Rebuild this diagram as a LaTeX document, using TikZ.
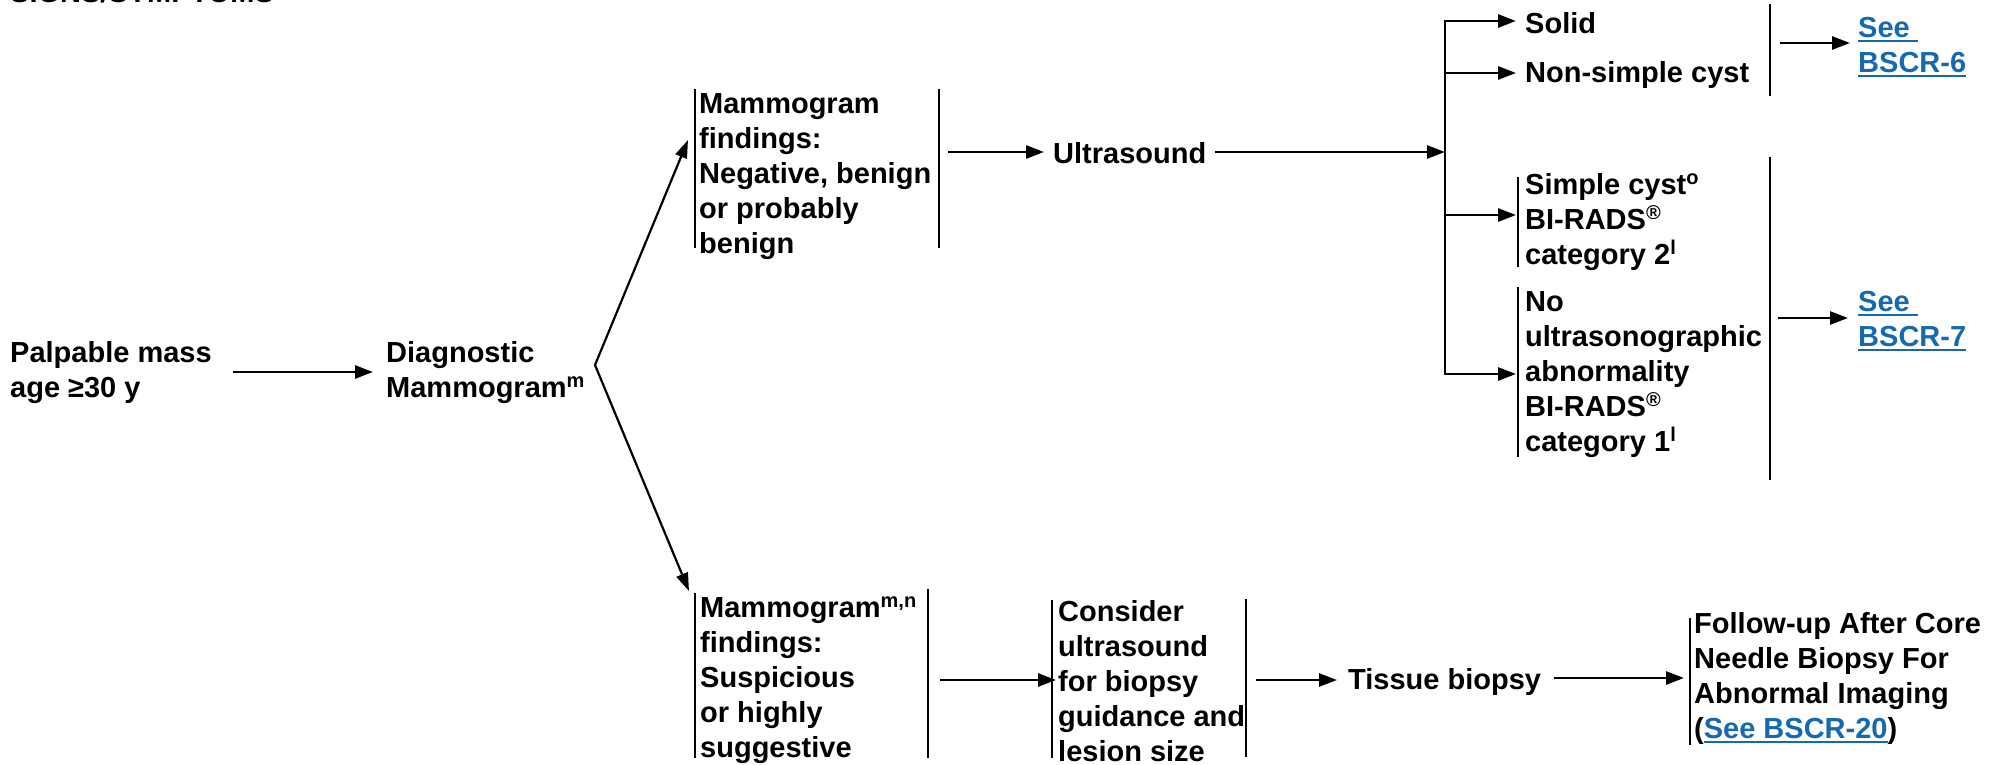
\documentclass[tikz,border=0pt]{standalone}
\usepackage{fontspec}
\setmainfont{Liberation Sans}
\usetikzlibrary{arrows.meta}
\definecolor{lb}{RGB}{22,105,175}
\newcommand\lnk[1]{{\color{lb}\setbox0\hbox{#1}\rlap{\rule[-4.5pt]{\wd0}{2.2pt}}\box0}}
\newcommand\sups[1]{\raisebox{10pt}{\fontsize{20}{20}\selectfont #1}}
\begin{document}
\begin{tikzpicture}[x=1pt,y=-1pt,
  arr/.style={line width=2.7pt,-{Triangle[length=18pt,width=13pt]}},
  darr/.style={line width=2.7pt,{Triangle[length=18pt,width=13pt]}-{Triangle[length=18pt,width=13pt]}},
  bar/.style={line width=2.2pt},
  txt/.style={inner sep=0pt,anchor=north west,align=left,font=\fontsize{29}{35}\selectfont\bfseries}]
\useasboundingbox (0,0) rectangle (2003,765);
\clip (0,0) rectangle (2003,765);

% cut-off title
\node[txt,anchor=base west] (title) at (10,3) {SIGNS/SYMPTOMS};

% left part
\node[txt] (palp) at (10,341) {Palpable mass\\age ≥30 y};
\node[txt] (diag) at (386,341) {Diagnostic\\Mammogram\sups{m}};
\coordinate (a1s) at (233,372);
\coordinate (a1e) at (373,372);
\draw[arr] (a1s) -- (a1e);

% chevron
\coordinate (v) at (595,365);
\coordinate (tUp) at (688,140);
\coordinate (tDn) at (689,591);
\draw[line width=2.2pt,{Triangle[length=18pt,width=12pt]}-{Triangle[length=18pt,width=12pt]}] (tUp) -- (v) -- (tDn);

% upper branch
\node[txt] (b1) at (699,93) {Mammogram\\findings:\\Negative, benign\\or probably\\benign};
\draw[bar] (695,89) -- (695,248);
\draw[bar] (939,89) -- (939,248);
\coordinate (b1o) at (948,152);
\node[txt] (us) at (1053,142) {Ultrasound};
\coordinate (usi) at (1044,152);
\draw[arr] (b1o) -- (usi);
\coordinate (uso) at (1215,152);
\coordinate (jm) at (1445,152);
\draw[arr] (uso) -- (jm);

% branch bracket
\coordinate (jt) at (1445,21);
\coordinate (jb) at (1445,374);
\coordinate (tSolid) at (1516,21);
\coordinate (tNon) at (1516,73);
\coordinate (tSimple) at (1516,215);
\coordinate (tNo) at (1516,374);
\draw[darr] (tNo) -- (jb) -- (jt) -- (tSolid);
\draw[arr] (1445,73) -- (tNon);
\draw[arr] (1445,215) -- (tSimple);

\node[txt] (solid) at (1525,12) {Solid};
\node[txt] (nonsimple) at (1525,61) {Non-simple cyst};
\draw[bar] (1770,4) -- (1770,96);
\coordinate (r6s) at (1780,43);
\coordinate (r6e) at (1850,43);
\draw[arr] (r6s) -- (r6e);
\node[txt] (bscr6) at (1858,17) {\lnk{See\ }\\\lnk{BSCR-6}};

\node[txt] (simple) at (1525,173) {Simple cyst\sups{o}\\BI-RADS\sups{®}\\category 2\sups{l}};
\draw[bar] (1518,177) -- (1518,267);
\node[txt] (noabn) at (1525,291) {No\\ultrasonographic\\abnormality\\BI-RADS\sups{®}\\category 1\sups{l}};
\draw[bar] (1518,287) -- (1518,457);
\draw[bar] (1770,157) -- (1770,480);
\coordinate (r7s) at (1778,318);
\coordinate (r7e) at (1848,318);
\draw[arr] (r7s) -- (r7e);
\node[txt] (bscr7) at (1858,291) {\lnk{See\ }\\\lnk{BSCR-7}};

% lower branch
\node[txt] (b3) at (700,597) {Mammogram\sups{m,n}\\findings:\\Suspicious\\or highly\\suggestive};
\draw[bar] (695,593) -- (695,758);
\draw[bar] (928,589) -- (928,758);
\coordinate (b3o) at (940,680);
\coordinate (b4i) at (1056,680);
\draw[arr] (b3o) -- (b4i);

\node[txt] (b4) at (1058,600) {Consider\\ultrasound\\for biopsy\\guidance and\\lesion size};
\draw[bar] (1052,600) -- (1052,758);
\draw[bar] (1246,599) -- (1246,757);
\coordinate (b4o) at (1256,680);
\coordinate (tbi) at (1337,680);
\draw[arr] (b4o) -- (tbi);

\node[txt] (tb) at (1348,668) {Tissue biopsy};
\coordinate (tbo) at (1554,678);
\coordinate (fui) at (1684,678);
\draw[arr] (tbo) -- (fui);

\node[txt] (fu) at (1694,612) {Follow-up After Core\\Needle Biopsy For\\Abnormal Imaging\\(\lnk{See BSCR-20})};
\draw[bar] (1690,618) -- (1690,745);
\end{tikzpicture}
\end{document}
